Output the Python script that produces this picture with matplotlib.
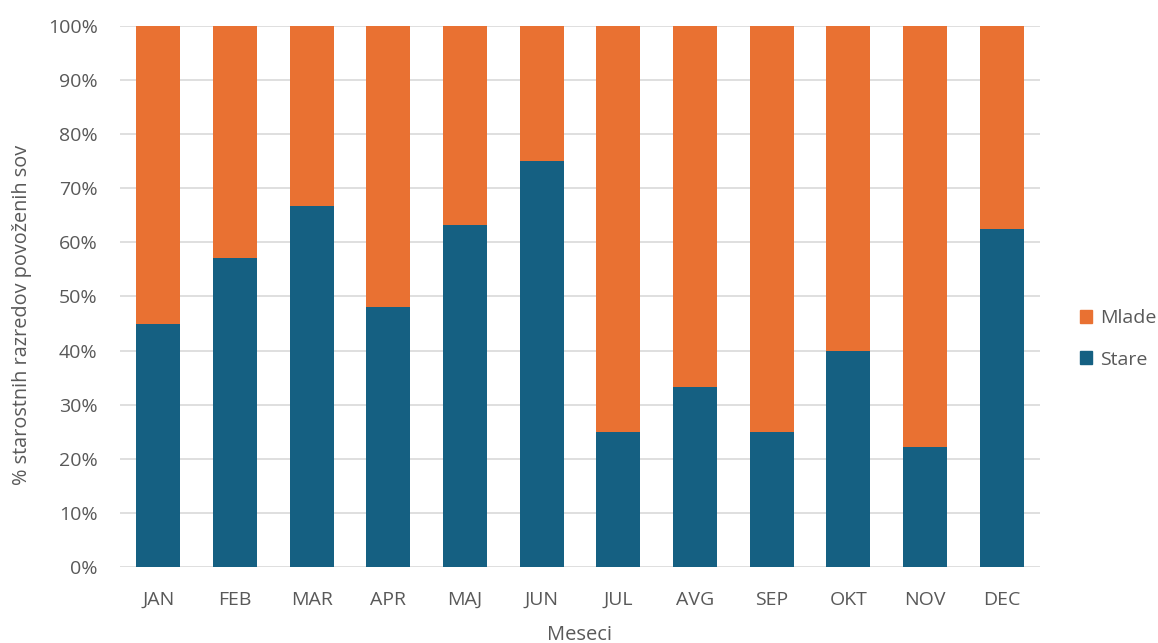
import matplotlib
matplotlib.use("Agg")
import matplotlib.pyplot as plt
from matplotlib.ticker import PercentFormatter, MultipleLocator
from matplotlib.patches import Patch

months = ["JAN", "FEB", "MAR", "APR", "MAJ", "JUN", "JUL", "AVG", "SEP", "OKT", "NOV", "DEC"]
stare = [45.0, 57.1, 66.7, 48.1, 63.2, 75.0, 25.0, 33.3, 25.0, 40.0, 22.2, 62.5]
mlade = [100 - s for s in stare]

plt.rcParams['font.family'] = ['Open Sans', 'DejaVu Sans']
txt = '#595959'
c_stare = '#156082'
c_mlade = '#E97132'

fig = plt.figure(figsize=(11.58, 6.43), dpi=100)
ax = fig.add_axes([0.1036, 0.1182, 0.7944, 0.8414])
x = list(range(len(months)))
ax.bar(x, stare, width=0.575, color=c_stare, zorder=3)
ax.bar(x, mlade, width=0.575, bottom=stare, color=c_mlade, zorder=3)

ax.set_xlim(-0.5, len(months) - 0.5)
ax.set_ylim(0, 100)
ax.yaxis.set_major_locator(MultipleLocator(10))
ax.yaxis.set_major_formatter(PercentFormatter(100, decimals=0))
ax.grid(axis='y', color='#D9D9D9', linewidth=1.2, zorder=0)
for s in ax.spines.values():
    s.set_visible(False)
ax.tick_params(axis='both', length=0, labelsize=14, colors=txt)
ax.tick_params(axis='x', pad=17)
ax.tick_params(axis='y', pad=16)
ax.set_xticks(x)
ax.set_xticklabels(months)
ax.set_xlabel('Meseci', fontsize=14.5, color=txt, labelpad=12)
ax.set_ylabel('% starostnih razredov povoženih sov', fontsize=14.3, color=txt,
              va='center')
ax.yaxis.set_label_coords(-0.1065, 0.466)

handles = [Patch(color=c_mlade, label='Mlade'), Patch(color=c_stare, label='Stare')]
leg = fig.legend(handles=handles, loc='center left', bbox_to_anchor=(0.933, 0.473),
                 frameon=False, fontsize=14, handlelength=0.6, handleheight=0.6,
                 handletextpad=0.4, labelspacing=1.2, borderpad=0, borderaxespad=0)
for t in leg.get_texts():
    t.set_color(txt)

fig.savefig('out.png', dpi=100)
